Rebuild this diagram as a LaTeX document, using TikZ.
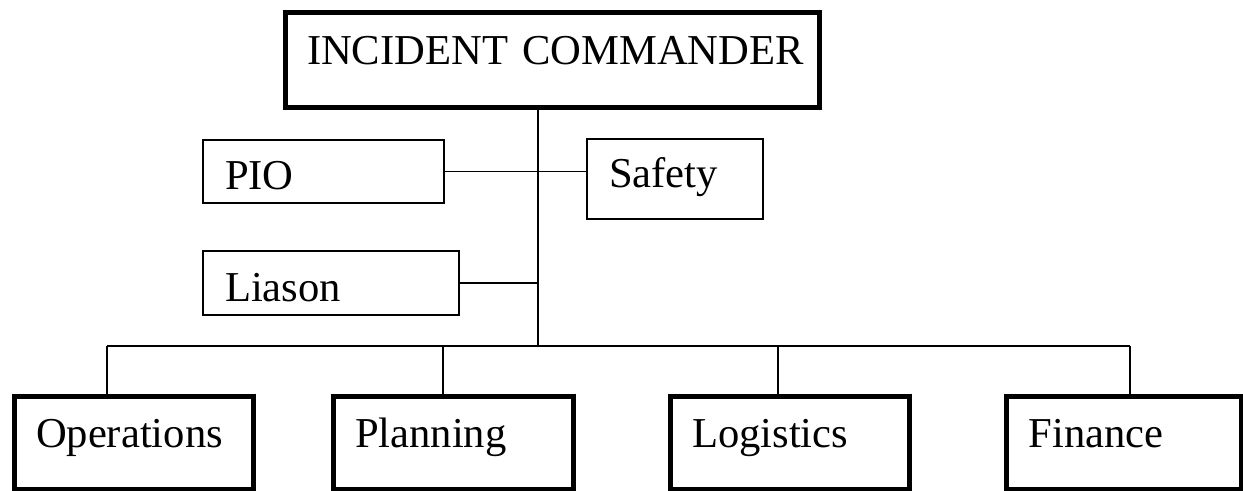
\documentclass[tikz,border=0pt]{standalone}
\usepackage{fontspec}
\setmainfont{Liberation Serif}
\usetikzlibrary{calc}
\setlength{\parindent}{0pt}

\tikzset{
  orgbox/.style={draw, line width=1pt, inner sep=0pt, anchor=north west, align=left,
    font=\fontsize{21.3pt}{25pt}\selectfont, execute at begin node={\hspace*{11pt}}},
  bigbox/.style={orgbox, line width=2.5pt},
  sidebox/.style={orgbox, text height=25pt, text depth=6.5pt},
  sectbox/.style={bigbox, text height=25.25pt, text depth=21.25pt},
  link/.style={line width=0.7pt},
}

\begin{document}
\begin{tikzpicture}[x=0.5pt,y=-0.5pt]
\useasboundingbox (0,0) rectangle (1243,491);
\node[bigbox, text width=267.25pt, text height=25.75pt, text depth=21.75pt] (ic) at (282.5,10.5) {INCIDENT COMMANDER};
\node[sidebox, text width=120.5pt] (pio) at (202,139) {PIO};
\node[orgbox, text width=88pt, text height=24.5pt, text depth=15.5pt] (safety) at (586,138) {Safety};
\node[sidebox, text width=128pt, text height=25.5pt] (liason) at (202,250) {Liason};
\node[sectbox, text width=119.75pt] (ops) at (11.5,394.5) {Operations};
\node[sectbox, text width=120pt] (plan) at (330.5,394.5) {Planning};
\node[sectbox, text width=119.75pt] (logi) at (667.5,394.5) {Logistics};
\node[sectbox, text width=117.25pt] (fin) at (1004,394.5) {Finance};
\coordinate (bus) at (538,346);
\coordinate (d1) at (107,346);
\coordinate (d2) at (443,346);
\coordinate (d3) at (778,346);
\coordinate (d4) at (1130,346);
\draw[link] (ic.south -| bus) -- (bus);
\draw[link] (pio.east) -- (pio.east -| safety.west);
\draw[link] (liason.east) -- (liason.east -| bus);
\draw[link] (d1) -- (d4);
\draw[link] (d1) -- (d1 |- ops.north);
\draw[link] (d2) -- (d2 |- plan.north);
\draw[link] (d3) -- (d3 |- logi.north);
\draw[link] (d4) -- (d4 |- fin.north);
\end{tikzpicture}
\end{document}
